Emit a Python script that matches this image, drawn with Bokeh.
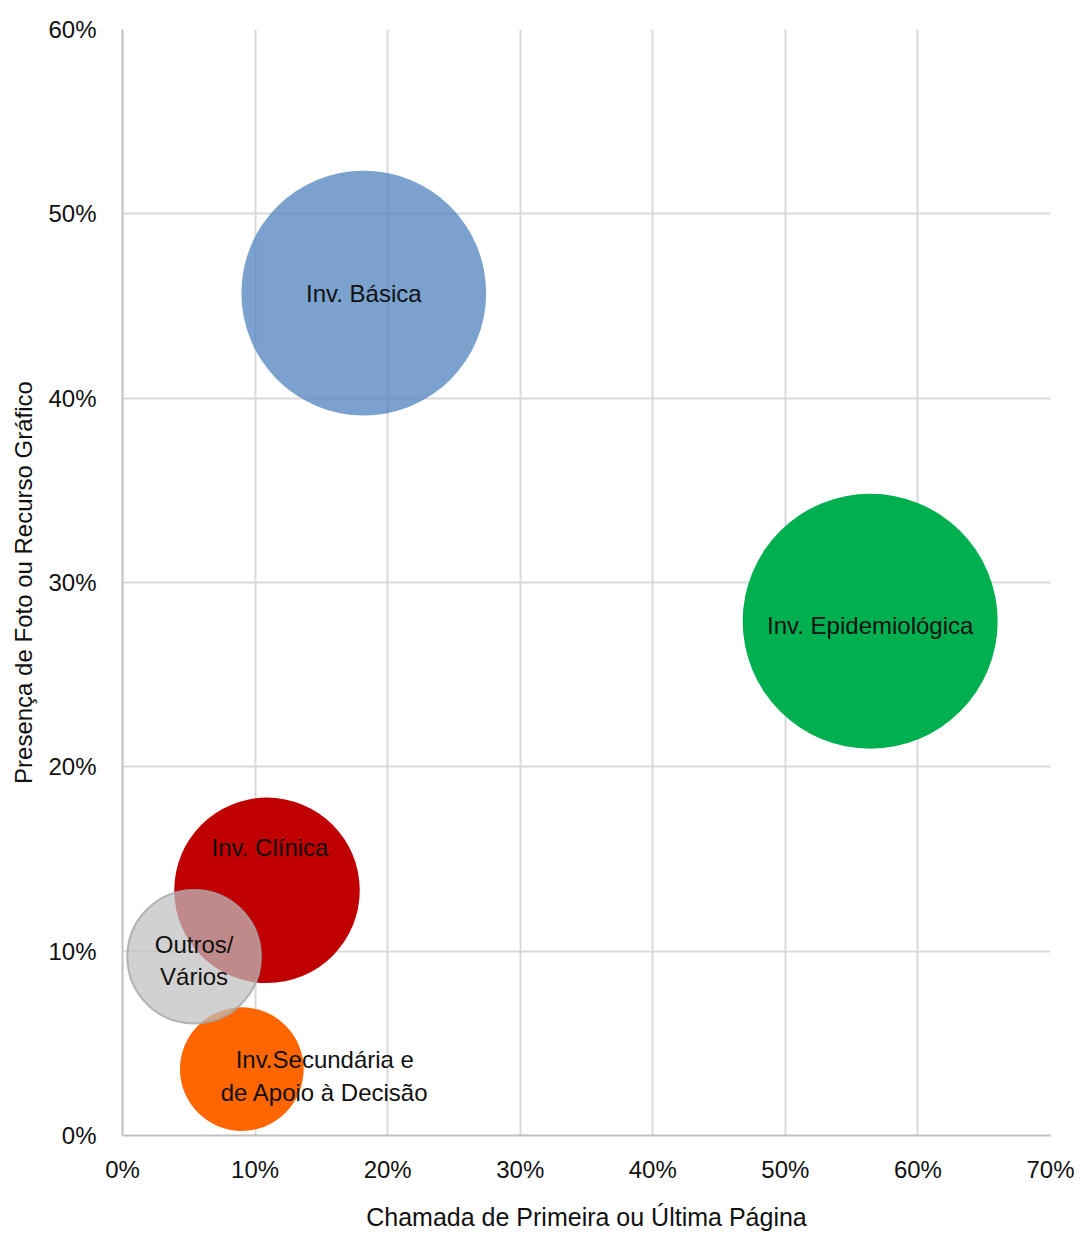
from bokeh.plotting import figure
from bokeh.models import ColumnDataSource, Range1d, NumeralTickFormatter, FixedTicker
from bokeh.embed import file_html
from bokeh.resources import INLINE
from bokeh.core.properties import value

# Research areas: share with front/back page call (x), share with photo or graphic (y), article count (bubble size)
areas = ["Inv. Básica", "Inv. Epidemiológica", "Inv. Clínica",
         "Inv.Secundária e\nde Apoio à Decisão", "Outros/\nVários"]
front_page_share = [0.182, 0.564, 0.109, 0.090, 0.054]
photo_share = [0.457, 0.279, 0.133, 0.036, 0.097]
article_counts = [47, 51, 27, 12, 14]

x_ticks = [0.0, 0.1, 0.2, 0.3, 0.4, 0.5, 0.6, 0.7]
y_ticks = [0.0, 0.1, 0.2, 0.3, 0.4, 0.5, 0.6]

# Styling per bubble
fills = ["#4F81BD", "#00B050", "#C00000", "#FF6600", "#BFBFBF"]
fill_alphas = [0.75, 1.0, 1.0, 1.0, 0.72]
outlines = [None, None, None, None, "#A6A6A6"]
label_dx = [0, 0, 3, 83, 0]
label_dy = [0, 4, -43, 7, 4]

max_diameter = 255.0
biggest = max(article_counts)
diameters = [max_diameter * (c / biggest) ** 0.5 for c in article_counts]

src = ColumnDataSource(dict(
    x=front_page_share, y=photo_share, label=areas, size=diameters,
    fill=fills, alpha=fill_alphas, line=outlines, dx=label_dx, dy=label_dy,
))

narrow = "'Liberation Sans Narrow', 'Arial Narrow', sans-serif"

p = figure(
    frame_width=928, frame_height=1106,
    min_border_left=122, min_border_right=30, min_border_top=29, min_border_bottom=99,
    x_range=Range1d(0, 0.7), y_range=Range1d(0, 0.6),
    output_backend="svg", toolbar_location=None,
    background_fill_color="white", border_fill_color="white",
)
p.outline_line_color = None

p.scatter("x", "y", source=src, size="size", marker="circle",
          fill_color="fill", fill_alpha="alpha", line_color="line", line_width=2, line_alpha=0.8)

p.text("x", "y", text="label", source=src, x_offset="dx", y_offset="dy",
       text_align="center", text_baseline="middle",
       text_font=value(narrow), text_font_size="24px", text_color="#111111",
       text_line_height=1.2)

for ax, ticks in ((p.xaxis, x_ticks), (p.yaxis, y_ticks)):
    ax.ticker = FixedTicker(ticks=ticks)
    ax.formatter = NumeralTickFormatter(format="0%")
    ax.major_tick_line_color = None
    ax.minor_tick_line_color = None
    ax.axis_line_color = "#BFBFBF"
    ax.axis_line_width = 2
    ax.major_label_text_font = narrow
    ax.major_label_text_font_size = "24px"
    ax.major_label_text_color = "#111111"

p.xaxis.major_label_standoff = 14
p.yaxis.major_label_standoff = 20

p.xaxis.axis_label = "Chamada de Primeira ou Última Página"
p.xaxis.axis_label_text_font = narrow
p.xaxis.axis_label_text_font_size = "25px"
p.xaxis.axis_label_text_font_style = "normal"
p.xaxis.axis_label_text_color = "#111111"
p.xaxis.axis_label_standoff = 17

p.yaxis.axis_label = "Presença de Foto ou Recurso Gráfico"
p.yaxis.axis_label_text_font = "Liberation Sans"
p.yaxis.axis_label_text_font_size = "24px"
p.yaxis.axis_label_text_font_style = "normal"
p.yaxis.axis_label_text_color = "#111111"
p.yaxis.axis_label_standoff = 8

p.xgrid.ticker = FixedTicker(ticks=x_ticks)
p.ygrid.ticker = FixedTicker(ticks=y_ticks)
p.grid.grid_line_color = "#D9D9D9"
p.grid.grid_line_width = 2

open("out.html", "w").write(file_html(p, INLINE))
